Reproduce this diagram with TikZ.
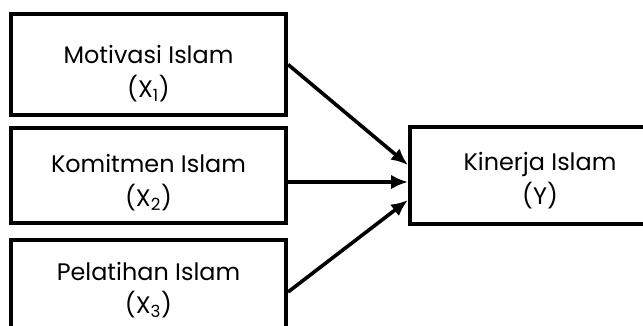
\documentclass[tikz,border=0pt]{standalone}
\usepackage{fontspec}
\setmainfont{Poppins}
\usetikzlibrary{arrows.meta}

\begin{document}
\begin{tikzpicture}[x=0.025cm, y=-0.025cm,
        varbox/.style={draw, line width=0.1cm, align=center, inner sep=0pt,
          font=\fontsize{17}{24}\selectfont},
        link/.style={line width=0.09cm, -{Latex[length=0.42cm, width=0.36cm]}}]
      \useasboundingbox (0,0) rectangle (643,325);
      \node (X1) at (148.5,64.5) [varbox, minimum width=6.875cm, minimum height=2.525cm] {\rule{0pt}{26pt}Motivasi Islam\\(X\textsubscript{1})};
      \node (X2) at (148.5,175.5) [varbox, minimum width=6.875cm, minimum height=2.35cm] {\rule{0pt}{23pt}Komitmen Islam\\(X\textsubscript{2})};
      \node (X3) at (148.5,290) [varbox, minimum width=6.875cm, minimum height=2.5cm] {Pelatihan Islam\\(X\textsubscript{3})};
      \node (Y) at (408,175.5) [varbox, anchor=west, minimum width=6.5cm, minimum height=2.425cm] {\rule{0pt}{20.5pt}Kinerja Islam\\(Y)};
      \draw[link] (X1.east) -- ([yshift=0.2625cm]Y.west);
      \draw[link] ([yshift=-0.1625cm]X2.east) -- ([yshift=-0.1625cm]Y.west);
      \draw[link] ([yshift=-0.05cm]X3.east) -- ([yshift=-0.6125cm]Y.west);
    \end{tikzpicture}
\end{document}
